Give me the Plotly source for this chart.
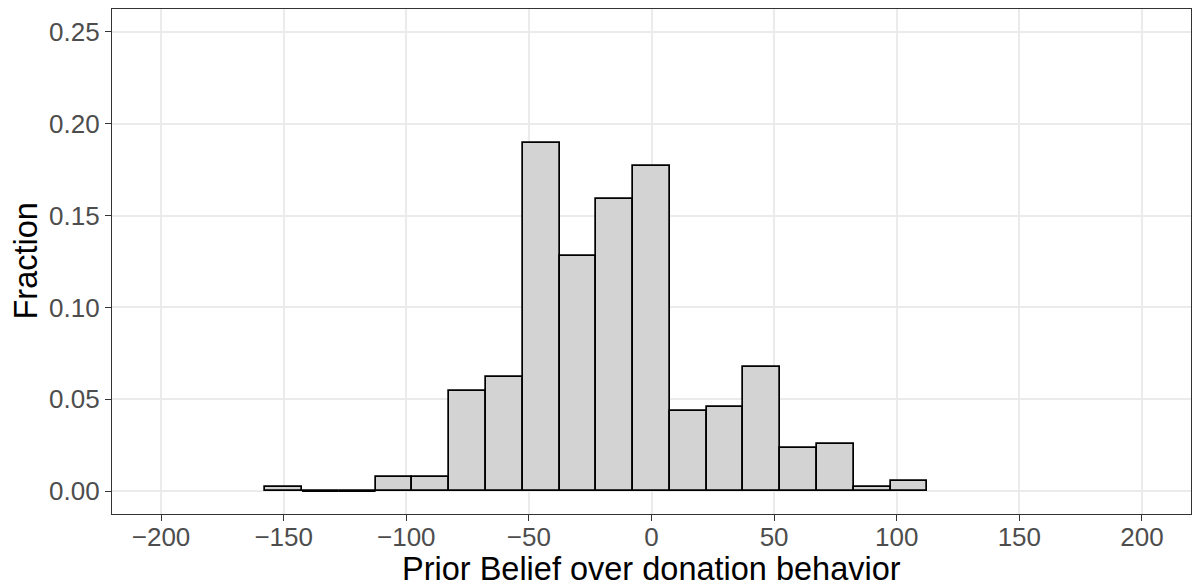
import plotly.graph_objects as go

# Histogram bin centres (binwidth 15) and fraction per bin
bin_centers = [-150, -135, -120, -105, -90, -75, -60, -45, -30, -15, 0, 15, 30, 45, 60, 75, 90, 105]
fractions = [0.0020, 0.0, 0.0, 0.0074, 0.0074, 0.0547, 0.0621, 0.1898, 0.1279, 0.1589,
             0.1770, 0.0436, 0.0458, 0.0677, 0.0237, 0.0255, 0.0020, 0.0054]
bin_width = 15

x_ticks = [-200, -150, -100, -50, 0, 50, 100, 150, 200]
y_ticks = [0.00, 0.05, 0.10, 0.15, 0.20, 0.25]
y_tick_labels = ["0.00", "0.05", "0.10", "0.15", "0.20", "0.25"]

x_title = "Prior Belief over donation behavior"
y_title = "Fraction"

fig = go.Figure()

fig.add_trace(go.Bar(
    x=bin_centers, y=fractions, width=[bin_width] * len(bin_centers),
    marker=dict(color="#D3D3D3", line=dict(color="black", width=1.7)),
    hoverinfo="x+y", showlegend=False,
))

# empty bins are drawn by ggplot as a flat outline at zero
for c, f in zip(bin_centers, fractions):
    if f == 0:
        fig.add_trace(go.Scatter(
            x=[c - bin_width / 2, c + bin_width / 2], y=[0, 0], mode="lines",
            line=dict(color="black", width=1.7), showlegend=False, hoverinfo="skip",
        ))

font_family = "Liberation Sans, Arial, sans-serif"
tick_font = dict(size=26, color="#4D4D4D", family=font_family)
title_font = dict(size=32.5, color="black", family=font_family)

fig.update_layout(
    width=1192, height=586,
    margin=dict(l=112, r=1, t=9, b=72, autoexpand=False),
    paper_bgcolor="white", plot_bgcolor="white",
    bargap=0,
    font=dict(family=font_family, color="#4D4D4D"),
    xaxis=dict(
        range=[-220, 220], tickvals=x_ticks, automargin=False,
        showgrid=True, gridcolor="#EBEBEB", gridwidth=1.6, zeroline=False,
        showline=True, mirror=True, linecolor="#333333", linewidth=1.2,
        ticks="outside", ticklen=6, tickcolor="#333333", tickwidth=1.2,
        tickfont=tick_font, ticklabelstandoff=-6,
    ),
    yaxis=dict(
        range=[-0.0125, 0.2625], tickvals=y_ticks, ticktext=y_tick_labels, automargin=False,
        showgrid=True, gridcolor="#EBEBEB", gridwidth=1.6, zeroline=False,
        showline=True, mirror=True, linecolor="#333333", linewidth=1.2,
        ticks="outside", ticklen=6, tickcolor="#333333", tickwidth=1.2,
        tickfont=tick_font,
    ),
    annotations=[
        dict(text=x_title, xref="paper", yref="paper", x=0.5, y=0,
             xanchor="center", yanchor="middle", yshift=-55, height=30, valign="middle",
             showarrow=False, font=title_font),
        dict(text=y_title, xref="paper", yref="paper", x=0, y=0.5, textangle=-90,
             xanchor="center", yanchor="middle", xshift=-87, showarrow=False, font=title_font),
    ],
)

fig.write_html(
    "out.html",
    config={"responsive": False, "displayModeBar": False},
    post_script="document.body.style.margin='0';document.body.style.overflow='hidden';",
)
